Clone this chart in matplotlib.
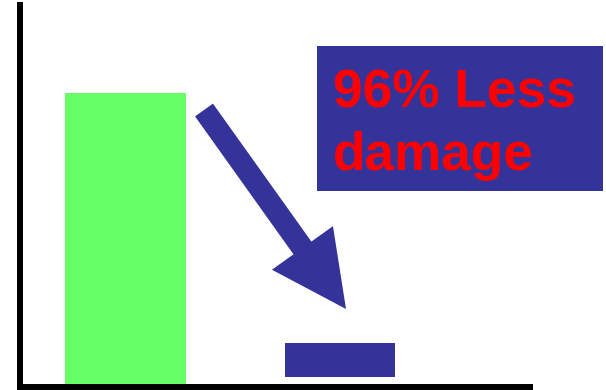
import matplotlib
matplotlib.use("Agg")
import matplotlib.pyplot as plt
from matplotlib.patches import FancyArrow, Rectangle

# Data
categories = ["Before", "After"]
values = [77.0, 9.0]
bottoms = [0.0, 2.6]
bar_colors = ["#66FF66", "#333399"]
bar_widths = [0.564, 0.513]
label_lines = ["96% Less", "damage"]

W, H = 606, 390
fig = plt.figure(figsize=(W / 100, H / 100), dpi=100)

# Main axes (spines act as the drawn axes)
ax = fig.add_axes([20 / W, 3 / H, 510 / W, 382 / H])
ax.bar(range(len(categories)), values, bottom=bottoms, width=bar_widths,
       color=bar_colors, edgecolor="none", zorder=2)
ax.set_xlim(-0.492, 1.886)
ax.set_ylim(0, 100)
ax.set_xticks([])
ax.set_yticks([])
for s in ["top", "right"]:
    ax.spines[s].set_visible(False)
for s in ["left", "bottom"]:
    ax.spines[s].set_linewidth(4.3)
    ax.spines[s].set_color("black")
ax.patch.set_alpha(0)

# Overlay in pixel coordinates for annotation elements
ov = fig.add_axes([0, 0, 1, 1])
ov.set_xlim(0, W)
ov.set_ylim(H, 0)
ov.axis("off")
ov.patch.set_alpha(0)

ov.add_patch(Rectangle((317, 46), 286, 145, facecolor="#333399", edgecolor="none"))
ov.text(333, 107, label_lines[0], color="#FF0000", fontsize=38.3, fontweight="bold",
        family="Liberation Sans", ha="left", va="baseline")
ov.text(333, 170, label_lines[1], color="#FF0000", fontsize=38.3, fontweight="bold",
        family="Liberation Sans", ha="left", va="baseline")

x0, y0, x1, y1 = 204, 110, 346, 309
ov.add_patch(FancyArrow(x0, y0, x1 - x0, y1 - y0, width=22, head_width=75,
                        head_length=75, length_includes_head=True,
                        color="#333399", linewidth=0))

fig.savefig("out.png", dpi=100)
